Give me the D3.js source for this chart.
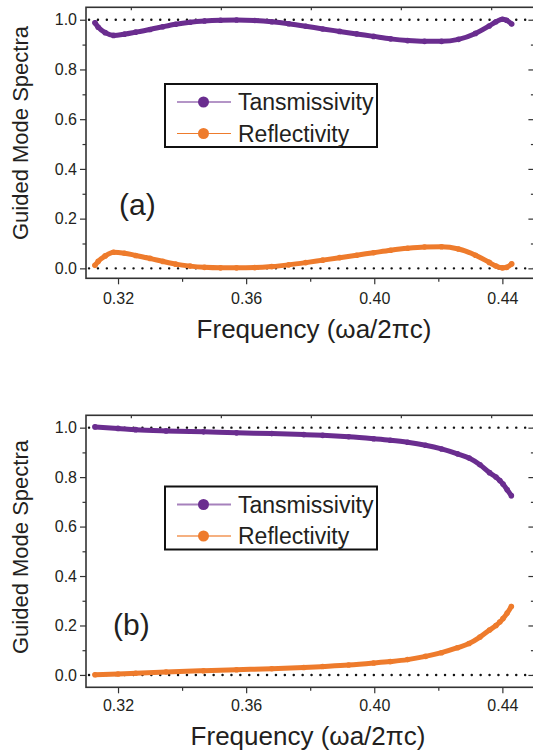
<!DOCTYPE html>
<html>
<head>
<meta charset="utf-8">
<script src="https://cdn.jsdelivr.net/npm/d3@7"></script>
<style>
  body { margin: 0; background: #fff; }
  text { font-family: "Liberation Sans", Arial, sans-serif; fill: #231f20; }
</style>
</head>
<body>
<div id="chart"></div>
<script>
// 1: Data
var freqA = [0.3128, 0.3138, 0.3160, 0.3186, 0.3220, 0.3255, 0.3300, 0.3340, 0.3380, 0.3425,
             0.3470, 0.3520, 0.3570, 0.3627, 0.3680, 0.3733, 0.3786, 0.3839, 0.3892, 0.3945,
             0.3998, 0.4051, 0.4104, 0.4157, 0.4210, 0.4263, 0.4316, 0.4359, 0.4380, 0.4400,
             0.4413, 0.4429];
var transA = [0.988, 0.970, 0.948, 0.937, 0.942, 0.950, 0.961, 0.972, 0.982, 0.990,
              0.995, 0.998, 0.999, 0.997, 0.992, 0.984, 0.974, 0.963, 0.953, 0.943,
              0.933, 0.923, 0.916, 0.913, 0.913, 0.921, 0.945, 0.975, 0.992, 1.002,
              0.998, 0.983];
var reflA = [0.012, 0.028, 0.050, 0.065, 0.061, 0.052, 0.040, 0.028, 0.017, 0.009,
             0.004, 0.002, 0.002, 0.003, 0.007, 0.014, 0.023, 0.033, 0.043, 0.053,
             0.063, 0.073, 0.081, 0.086, 0.087, 0.078, 0.053, 0.024, 0.009, 0.002,
             0.004, 0.018];

var freqB = [0.3128, 0.3200, 0.3255, 0.3350, 0.3467, 0.3570, 0.3680, 0.3780, 0.3839, 0.3920,
             0.3998, 0.4050, 0.4104, 0.4160, 0.4210, 0.4260, 0.4296, 0.4330, 0.4360, 0.4380,
             0.4392, 0.4402, 0.4415, 0.4428];
var transB = [1.003, 0.997, 0.992, 0.987, 0.983, 0.979, 0.976, 0.972, 0.969, 0.963,
              0.955, 0.949, 0.941, 0.929, 0.914, 0.894, 0.877, 0.850, 0.818, 0.800,
              0.786, 0.772, 0.749, 0.725];
var reflB = [0.001, 0.004, 0.007, 0.012, 0.017, 0.021, 0.025, 0.030, 0.034, 0.040,
             0.048, 0.054, 0.062, 0.075, 0.090, 0.110, 0.127, 0.153, 0.182, 0.200,
             0.214, 0.228, 0.250, 0.277];

var seriesNames = ["Tansmissivity", "Reflectivity"];
var xMajor = [0.32, 0.36, 0.40, 0.44];
var xMinor = [0.34, 0.38, 0.42];
var xTop = [0.3240, 0.3521, 0.3802, 0.4083, 0.4365];
var yMajor = [0.0, 0.2, 0.4, 0.6, 0.8, 1.0];
var yMinor = [0.1, 0.3, 0.5, 0.7, 0.9];
var refLines = [0.0, 1.0];

// 2: SVG
var W = 533, H = 756;
var svg = d3.select("#chart").append("svg")
    .attr("width", W)
    .attr("height", H);

var purple = "#6a2d8f", orange = "#ee7b2c";

var x = d3.scaleLinear()
    .domain([0.31, 0.45])
    .range([86, 534.4]);

function panel(opts) {
  var y = d3.scaleLinear()
      .domain(opts.ydomain)
      .range([opts.bottom, opts.top]);

  var g = svg.append("g");

  // reference dotted lines
  g.selectAll("line.ref")
    .data(refLines)
    .enter().append("line")
    .attr("class", "ref")
    .attr("x1", x.range()[0] + 3)
    .attr("x2", x.range()[1])
    .attr("y1", function(d) { return y(d); })
    .attr("y2", function(d) { return y(d); })
    .attr("stroke", "#111")
    .attr("stroke-width", 2.4)
    .attr("stroke-linecap", "round")
    .attr("stroke-dasharray", "0.1,8.8");

  // frame
  g.append("rect")
    .attr("x", x.range()[0])
    .attr("y", opts.top)
    .attr("width", x.range()[1] - x.range()[0])
    .attr("height", opts.bottom - opts.top)
    .attr("fill", "none")
    .attr("stroke", "#333")
    .attr("stroke-width", 1.6);

  // axes
  g.append("g")
      .attr("transform", "translate(" + x.range()[0] + ",0)")
      .call(d3.axisLeft(y).tickValues(yMajor).tickSize(6).tickPadding(3).tickFormat(d3.format(".1f")));
  g.append("g")
      .attr("transform", "translate(" + x.range()[0] + ",0)")
      .call(d3.axisLeft(y).tickValues(yMinor).tickSize(3.5).tickFormat(""));
  g.append("g")
      .attr("transform", "translate(" + x.range()[1] + ",0)")
      .call(d3.axisLeft(y).tickValues(yMajor).tickSize(6).tickFormat(""));
  g.append("g")
      .attr("transform", "translate(" + x.range()[1] + ",0)")
      .call(d3.axisLeft(y).tickValues(yMinor).tickSize(3.5).tickFormat(""));

  g.append("g")
      .attr("transform", "translate(0," + opts.bottom + ")")
      .call(d3.axisBottom(x).tickValues(xMajor).tickSize(6).tickPadding(opts.xpad).tickFormat(d3.format(".2f")));
  g.append("g")
      .attr("transform", "translate(0," + opts.bottom + ")")
      .call(d3.axisBottom(x).tickValues(xMinor).tickSize(3.5).tickFormat(""));
  g.append("g")
      .attr("transform", "translate(0," + opts.top + ")")
      .call(d3.axisBottom(x).tickValues(xTop).tickSize(3).tickFormat(""));

  g.selectAll(".domain").remove();
  g.selectAll(".tick line").attr("stroke", "#333").attr("stroke-width", 1.2);
  g.selectAll(".tick text")
    .attr("font-size", 16)
    .attr("font-family", "Liberation Sans, Arial, sans-serif")
    .attr("fill", "#231f20");

  // data
  var sets = [
    {name: seriesNames[0], xs: opts.freq, ys: opts.trans, color: purple},
    {name: seriesNames[1], xs: opts.freq, ys: opts.refl, color: orange}
  ];
  var line = d3.line()
      .x(function(d) { return x(d[0]); })
      .y(function(d) { return y(d[1]); })
      .curve(d3.curveMonotoneX);

  sets.forEach(function(s) {
    var pts = s.xs.map(function(f, i) { return [f, s.ys[i]]; });
    g.append("path")
      .datum(pts)
      .attr("d", line)
      .attr("fill", "none")
      .attr("stroke", s.color)
      .attr("stroke-width", 5)
      .attr("stroke-linecap", "round");
    g.selectAll(null)
      .data(pts)
      .enter().append("circle")
      .attr("cx", function(d) { return x(d[0]); })
      .attr("cy", function(d) { return y(d[1]); })
      .attr("r", 2.8)
      .attr("fill", s.color);
  });

  // legend
  var lg = g.append("g");
  lg.append("rect")
    .attr("x", 165)
    .attr("y", opts.legendTop)
    .attr("width", 212)
    .attr("height", 63)
    .attr("fill", "#fff")
    .attr("stroke", "#111")
    .attr("stroke-width", 2);
  sets.forEach(function(s, i) {
    var ly = opts.legendTop + 18 + i * 31.5;
    lg.append("line")
      .attr("x1", 177).attr("x2", 231)
      .attr("y1", ly).attr("y2", ly)
      .attr("stroke", opts.legendLight ? d3.interpolateRgb(s.color, "#fff")(0.4) : s.color)
      .attr("stroke-width", opts.legendLight ? 1.8 : 1.2);
    lg.append("circle")
      .attr("cx", 203.5).attr("cy", ly)
      .attr("r", 5.5)
      .attr("fill", s.color);
    lg.append("text")
      .attr("x", 238).attr("y", ly)
      .attr("dy", "0.36em")
      .attr("font-size", 23)
      .text(s.name);
  });

  // panel label
  g.append("text")
    .attr("x", opts.labelX)
    .attr("y", opts.labelY)
    .attr("font-size", 30)
    .text(opts.label);

  // axis titles
  g.append("text")
    .attr("transform", "translate(28," + opts.ytitleY + ") rotate(-90)")
    .attr("text-anchor", "middle")
    .attr("font-size", 22)
    .text("Guided Mode Spectra");
  g.append("text")
    .attr("x", opts.xtitleX)
    .attr("y", opts.xtitleY)
    .attr("text-anchor", "middle")
    .attr("font-size", 26)
    .text("Frequency (ωa/2πc)");
}

// 3: Panels
panel({
  top: 7.3, bottom: 278.3, ydomain: [-0.04, 1.05],
  freq: freqA, trans: transA, refl: reflA,
  legendTop: 84, legendLight: false,
  label: "(a)", labelX: 119, labelY: 215,
  ytitleY: 133, xtitleX: 314, xtitleY: 338, xpad: 8
});

panel({
  top: 415.3, bottom: 687.3, ydomain: [-0.05, 1.05],
  freq: freqB, trans: transB, refl: reflB,
  legendTop: 486.5, legendLight: true,
  label: "(b)", labelX: 113, labelY: 635,
  ytitleY: 547, xtitleX: 308, xtitleY: 745, xpad: 6
});
</script>
</body>
</html>
